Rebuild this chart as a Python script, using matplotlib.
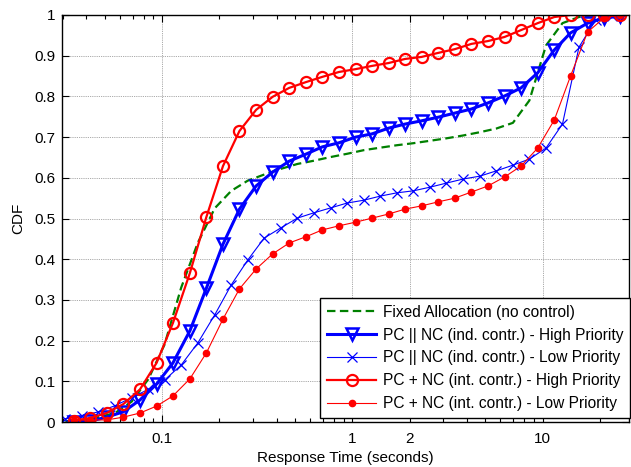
import matplotlib
matplotlib.use("Agg")
import matplotlib.pyplot as plt
from matplotlib.ticker import FixedLocator, NullFormatter, LogLocator

plt.rcParams['font.family'] = ['Liberation Sans', 'DejaVu Sans']

# x grid of the marker curves (seconds)
x_main = [0.0343, 0.0419, 0.0512, 0.0626, 0.0765, 0.0935, 0.114, 0.140, 0.171, 0.209,
          0.255, 0.312, 0.381, 0.466, 0.569, 0.695, 0.850, 1.04, 1.27, 1.55,
          1.89, 2.31, 2.83, 3.45, 4.22, 5.16, 6.30, 7.70, 9.41, 11.5,
          14.0, 17.2, 21.0, 25.6]
x_half = [0.0310, 0.0379, 0.0463, 0.0566, 0.0692, 0.0846, 0.103, 0.126, 0.154, 0.189,
          0.231, 0.282, 0.344, 0.421, 0.514, 0.628, 0.768, 0.938, 1.15, 1.40,
          1.71, 2.09, 2.56, 3.12, 3.82, 4.67, 5.70, 6.97, 8.51, 10.4,
          12.7, 15.5, 19.0, 23.2]

fixed_alloc = [0.002, 0.005, 0.012, 0.022, 0.05, 0.105, 0.19, 0.33, 0.44, 0.525,
               0.568, 0.593, 0.608, 0.622, 0.634, 0.642, 0.651, 0.659, 0.668, 0.674,
               0.68, 0.685, 0.691, 0.697, 0.704, 0.712, 0.721, 0.735, 0.79, 0.925,
               0.98, 0.995, 1.0, 1.0]
ind_high = [0.0, 0.002, 0.012, 0.025, 0.054, 0.093, 0.145, 0.224, 0.329, 0.437,
            0.523, 0.580, 0.614, 0.641, 0.658, 0.676, 0.686, 0.700, 0.708, 0.722,
            0.732, 0.740, 0.749, 0.759, 0.769, 0.784, 0.801, 0.821, 0.858, 0.914,
            0.956, 0.980, 0.993, 0.997]
ind_low = [0.008, 0.015, 0.025, 0.04, 0.06, 0.08, 0.103, 0.140, 0.194, 0.263,
           0.337, 0.398, 0.452, 0.477, 0.501, 0.514, 0.526, 0.538, 0.545, 0.555,
           0.563, 0.568, 0.577, 0.587, 0.597, 0.604, 0.617, 0.631, 0.646, 0.673,
           0.732, 0.921, 0.988, 0.998]
int_high = [0.003, 0.01, 0.022, 0.044, 0.08, 0.145, 0.243, 0.366, 0.504, 0.629,
            0.715, 0.767, 0.799, 0.821, 0.835, 0.848, 0.860, 0.867, 0.875, 0.882,
            0.892, 0.897, 0.907, 0.916, 0.929, 0.936, 0.946, 0.963, 0.980, 0.995,
            1.0, 1.0, 1.0, 1.0]
int_low = [0.005, 0.005, 0.005, 0.012, 0.022, 0.039, 0.064, 0.106, 0.170, 0.253,
           0.327, 0.376, 0.413, 0.440, 0.455, 0.472, 0.482, 0.491, 0.501, 0.511,
           0.523, 0.531, 0.541, 0.550, 0.565, 0.580, 0.602, 0.629, 0.673, 0.742,
           0.850, 0.958, 0.993, 1.0]

labels = ["Fixed Allocation (no control)",
          "PC || NC (ind. contr.) - High Priority",
          "PC || NC (ind. contr.) - Low Priority",
          "PC + NC (int. contr.) - High Priority",
          "PC + NC (int. contr.) - Low Priority"]

x_ticks = [0.1, 1, 2, 10]
x_ticklabels = ["0.1", "1", "2", "10"]
y_ticks = [0, 0.1, 0.2, 0.3, 0.4, 0.5, 0.6, 0.7, 0.8, 0.9, 1]
y_ticklabels = ["0", "0.1", "0.2", "0.3", "0.4", "0.5", "0.6", "0.7", "0.8", "0.9", "1"]

W, H = 631, 467
fig = plt.figure(figsize=(W / 100, H / 100), dpi=100)
ax = fig.add_axes([62 / W, (H - 422) / H, (629 - 62) / W, (422 - 15) / H])

green = '#008000'
blue = '#0000ff'
red = '#ff0000'

ax.plot(x_half, fixed_alloc, color=green, lw=1.6, ls='--', dashes=(3.8, 2.0), label=labels[0])
ax.plot(x_main, ind_high, color=blue, lw=2.2, marker='v', ms=9, mfc='none', mew=1.8,
        label=labels[1])
ax.plot(x_half, ind_low, color=blue, lw=0.8, marker='x', ms=6.5, mew=0.9, label=labels[2])
ax.plot(x_main, int_high, color=red, lw=1.6, marker='o', ms=8, mfc='none', mew=1.6,
        label=labels[3])
ax.plot(x_main, int_low, color=red, lw=0.8, marker='o', ms=4.5, mfc=red, mec=red,
        label=labels[4])

ax.set_xscale('log')
ax.set_xlim(0.0298, 28.4)
ax.set_ylim(0, 1)

ax.xaxis.set_major_locator(FixedLocator(x_ticks))
ax.set_xticklabels(x_ticklabels)
ax.xaxis.set_minor_locator(LogLocator(base=10, subs=(2, 3, 4, 5, 6, 7, 8, 9)))
ax.xaxis.set_minor_formatter(NullFormatter())
ax.set_yticks(y_ticks)
ax.set_yticklabels(y_ticklabels)

ax.tick_params(which='both', direction='in', top=True, right=True, labelsize=11,
               colors='black', width=0.8)
ax.tick_params(which='major', length=5)
ax.tick_params(which='minor', length=3)
ax.tick_params(axis='x', pad=7)
ax.tick_params(axis='y', pad=5)

ax.grid(True, which='major', color='#8c8c8c', ls=(0, (1, 1.2)), lw=0.6)
for s in ax.spines.values():
    s.set_linewidth(1.0)

ax.set_xlabel("Response Time (seconds)", fontsize=11, labelpad=4)
ax.set_ylabel("CDF", fontsize=11, labelpad=6)

leg = ax.legend(loc='lower right', bbox_to_anchor=(1.002, 0.0098), numpoints=1,
                fontsize=11.2, fancybox=False, framealpha=1, edgecolor='black',
                handlelength=3.2, labelspacing=0.5, borderaxespad=0.0,
                handletextpad=0.4, borderpad=0.45)
leg.get_frame().set_linewidth(1.0)

fig.savefig("out.png", dpi=100)
